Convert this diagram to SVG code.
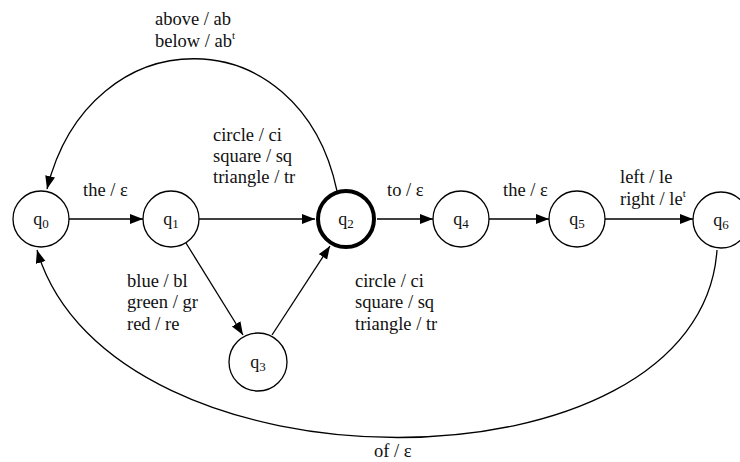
<svg xmlns="http://www.w3.org/2000/svg" width="740" height="462" viewBox="0 0 740 462">
<style>
.n{fill:#fff;stroke:#000;stroke-width:1.3}
.acc{fill:#fff;stroke:#000;stroke-width:4}
.e{fill:none;stroke:#000;stroke-width:1.3}
.lbl{font-size:18.5px;fill:#111}
.q{font-size:18px;text-anchor:middle;fill:#111}
.sub{font-size:13px}
.sup{font-size:11px}
</style>
<defs>
<marker id="ah" markerUnits="userSpaceOnUse" markerWidth="14" markerHeight="12" refX="13" refY="5" orient="auto">
<path d="M0,0 L13,5 L0,10 z" fill="#000"/>
</marker>
</defs>
<rect width="740" height="462" fill="#fff"/>
<g id="connectors">
<line class="e" x1="69" y1="219" x2="143" y2="219" marker-end="url(#ah)"/>
<line class="e" x1="199" y1="219" x2="315" y2="219" marker-end="url(#ah)"/>
<line class="e" x1="186" y1="243" x2="243" y2="335" marker-end="url(#ah)"/>
<line class="e" x1="272" y1="335" x2="330" y2="246" marker-end="url(#ah)"/>
<line class="e" x1="377" y1="219" x2="433" y2="219" marker-end="url(#ah)"/>
<line class="e" x1="489" y1="219" x2="549" y2="219" marker-end="url(#ah)"/>
<line class="e" x1="605" y1="219" x2="693" y2="219" marker-end="url(#ah)"/>
<path class="e" d="M337,191 C300,15 90,15 47,189" marker-end="url(#ah)"/>
<path class="e" d="M717,250 C700,500 110,500 37,250" marker-end="url(#ah)"/>
</g>
<g font-family="Liberation Serif, serif">
<g id="q0"><circle class="n" cx="41" cy="219" r="28"/><text class="q" x="41" y="225">q<tspan class="sub" dy="3">0</tspan></text></g>
<g id="q1"><circle class="n" cx="171" cy="219" r="28"/><text class="q" x="171" y="225">q<tspan class="sub" dy="3">1</tspan></text></g>
<g id="q2"><circle class="acc" cx="346" cy="219" r="28"/><text class="q" x="346" y="225">q<tspan class="sub" dy="3">2</tspan></text></g>
<g id="q3"><circle class="n" cx="258" cy="362" r="29"/><text class="q" x="258" y="368">q<tspan class="sub" dy="3">3</tspan></text></g>
<g id="q4"><circle class="n" cx="461" cy="219" r="28"/><text class="q" x="461" y="225">q<tspan class="sub" dy="3">4</tspan></text></g>
<g id="q5"><circle class="n" cx="577" cy="219" r="28"/><text class="q" x="577" y="225">q<tspan class="sub" dy="3">5</tspan></text></g>
<g id="q6"><circle class="n" cx="721" cy="220" r="28"/><text class="q" x="721" y="226">q<tspan class="sub" dy="3">6</tspan></text></g>
<g id="labels">
<text class="lbl" x="83" y="196">the / ε</text>
<text class="lbl" x="213" y="141">circle / ci</text>
<text class="lbl" x="213" y="162">square / sq</text>
<text class="lbl" x="213" y="183">triangle / tr</text>
<text class="lbl" x="387" y="196">to / ε</text>
<text class="lbl" x="503" y="196">the / ε</text>
<text class="lbl" x="620" y="183">left / le</text>
<text class="lbl" x="620" y="205">right / le<tspan class="sup" dy="-8">t</tspan></text>
<text class="lbl" x="127" y="287">blue / bl</text>
<text class="lbl" x="127" y="308">green / gr</text>
<text class="lbl" x="127" y="330">red / re</text>
<text class="lbl" x="355" y="287">circle / ci</text>
<text class="lbl" x="355" y="308">square / sq</text>
<text class="lbl" x="355" y="330">triangle / tr</text>
<text class="lbl" x="155" y="25">above / ab</text>
<text class="lbl" x="155" y="47">below / ab<tspan class="sup" dy="-8">t</tspan></text>
<text class="lbl" x="374" y="457">of / ε</text>
</g>
</g>
</svg>
